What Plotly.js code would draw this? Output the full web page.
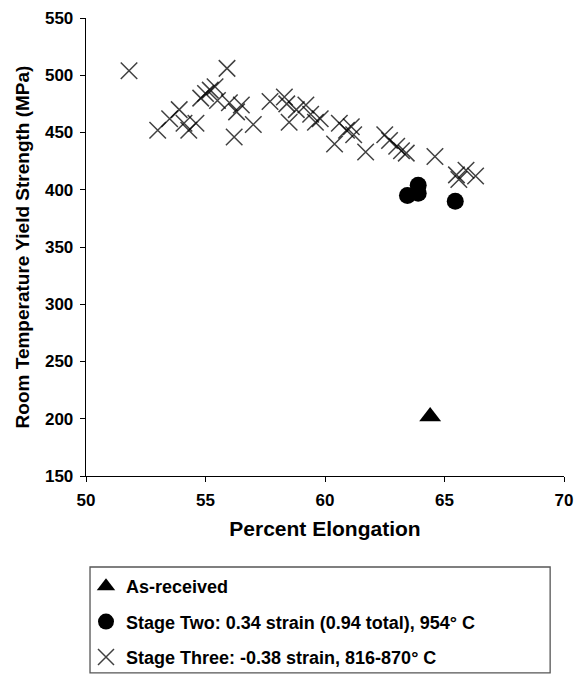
<!DOCTYPE html>
<html>
<head>
<meta charset="utf-8">
<script src="https://cdn.plot.ly/plotly-3.0.1.min.js"></script>
<style>html,body{margin:0;padding:0;background:#fff;}#chart{width:574px;height:676px;}</style>
</head>
<body>
<div id="chart"></div>
<script>
// As-received
const asReceivedX = [64.4];
const asReceivedY = [202];
// Stage Two
const stageTwoX = [63.45, 63.9, 63.9, 65.45];
const stageTwoY = [395, 404, 397, 390];
// Stage Three
const stageThreeX = [51.8, 53.0, 53.5, 53.9, 54.1, 54.3, 54.6, 54.8, 55.0, 55.2, 55.4, 55.5, 55.9, 56.0, 56.2, 56.3, 56.5, 57.0, 57.7, 58.3, 58.4, 58.5, 58.8, 59.2, 59.4, 59.6, 59.8, 60.4, 60.6, 60.9, 61.1, 61.2, 61.7, 62.5, 62.7, 63.0, 63.2, 63.4, 64.6, 65.5, 65.6, 65.9, 66.3];
const stageThreeY = [504, 452, 462, 470, 458, 452, 458, 480, 484, 487, 490, 478, 506, 476, 446, 468, 474, 457, 477, 481, 475, 459, 470, 474, 466, 459, 462, 440, 458, 452, 455, 448, 433, 448, 443, 438, 434, 432, 429, 413, 409, 417, 412];

// Tick labels
const xTicks = [50, 55, 60, 65, 70];
const yTicks = [150, 200, 250, 300, 350, 400, 450, 500, 550];

const names = ['As-received', 'Stage Two: 0.34 strain (0.94 total), 954\u00b0 C', 'Stage Three: -0.38 strain, 816-870\u00b0 C'];

const traces = [
  {x: asReceivedX, y: asReceivedY, type: 'scatter', mode: 'markers', name: names[0], legendgroup: 'a',
   marker: {symbol: 'triangle-up', size: 19, color: '#000'}},
  {x: stageTwoX, y: stageTwoY, type: 'scatter', mode: 'markers', name: names[1], legendgroup: 'b',
   marker: {symbol: 'circle', size: 17, color: '#000'}},
  {x: stageThreeX, y: stageThreeY, type: 'scatter', mode: 'markers', name: names[2], legendgroup: 'c',
   marker: {symbol: 'x-thin-open', size: 16.5, color: 'rgba(0,0,0,0.75)', line: {width: 1.5, color: 'rgba(0,0,0,0.75)'}}}
];

const FAM = 'Liberation Sans, Arial, sans-serif';
const layout = {
  width: 574, height: 676,
  margin: {l: 86, r: 10, t: 18, b: 200, autoexpand: false},
  paper_bgcolor: '#fff', plot_bgcolor: '#fff',
  showlegend: true,
  xaxis: {range: [50, 70], tickmode: 'array', tickvals: xTicks, ticktext: xTicks.map(v => '<b>' + v + '</b>'),
    showgrid: false, zeroline: false, automargin: false,
    showline: true, linecolor: '#000', linewidth: 1.3, ticks: 'outside', ticklen: 5, tickcolor: '#000',
    ticklabelstandoff: 3,
    tickfont: {family: FAM, size: 17, color: '#000', weight: 'bold'},
    title: {text: 'Percent Elongation', font: {family: FAM, size: 21, color: '#000', weight: 'bold'}, standoff: 12}},
  yaxis: {range: [150, 550], tickmode: 'array', tickvals: yTicks, ticktext: yTicks.map(v => '<b>' + v + '</b>'),
    showgrid: false, zeroline: false, automargin: false,
    showline: true, linecolor: '#000', linewidth: 1.3, ticks: 'outside', ticklen: 5, tickcolor: '#000',
    ticklabelstandoff: 3,
    tickfont: {family: FAM, size: 17, color: '#000', weight: 'bold'},
    title: {text: 'Room Temperature Yield Strength (MPa)', font: {family: FAM, size: 19, color: '#000', weight: 'bold'}, standoff: 10}},
  legend: {x: 0, y: -0.2009, xanchor: 'left', yanchor: 'top',
    traceorder: 'grouped', tracegroupgap: 9,
    bgcolor: 'rgba(0,0,0,0)', borderwidth: 0,
    font: {family: FAM, size: 18, color: '#000', weight: 'bold'}},
  shapes: [{type: 'rect', xref: 'paper', yref: 'paper', x0: 0.0084, x1: 0.971, y0: -0.1987, y1: -0.43,
    line: {color: '#555', width: 1.3}, fillcolor: 'rgba(0,0,0,0)'}]
};

Plotly.newPlot('chart', traces, layout, {displayModeBar: false, staticPlot: true});
</script>
</body>
</html>
